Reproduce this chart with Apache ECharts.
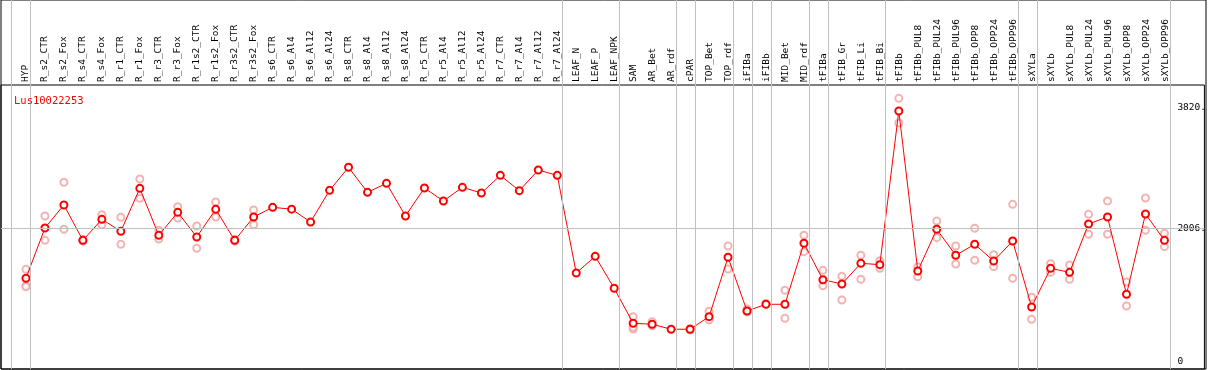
<!DOCTYPE html>
<html>
<head>
<meta charset="utf-8">
<script src="https://cdn.jsdelivr.net/npm/echarts@6/dist/echarts.min.js"></script>
<style>html,body{margin:0;padding:0;background:#fff;}#c{width:1209px;height:370px;}</style>
</head>
<body>
<div id="c"></div>
<script>
// ---------- data ----------
const title = 'Lus10022253';
const categories = ['HYP','R_s2_CTR','R_s2_Fox','R_s4_CTR','R_s4_Fox','R_r1_CTR','R_r1_Fox','R_r3_CTR','R_r3_Fox','R_r1s2_CTR','R_r1s2_Fox','R_r3s2_CTR','R_r3s2_Fox','R_s6_CTR','R_s6_Al4','R_s6_Al12','R_s6_Al24','R_s8_CTR','R_s8_Al4','R_s8_Al12','R_s8_Al24','R_r5_CTR','R_r5_Al4','R_r5_Al12','R_r5_Al24','R_r7_CTR','R_r7_Al4','R_r7_Al12','R_r7_Al24','LEAF_N','LEAF_P','LEAF_NPK','SAM','AR_Bet','AR_rdf','cPAR','TOP_Bet','TOP_rdf','iFIBa','iFIBb','MID_Bet','MID_rdf','tFIBa','tFIB_Gr','tFIB_Li','tFIB_Bi','tFIBb','tFIBb_PUL8','tFIBb_PUL24','tFIBb_PUL96','tFIBb_OPP8','tFIBb_OPP24','tFIBb_OPP96','sXYLa','sXYLb','sXYLb_PUL8','sXYLb_PUL24','sXYLb_PUL96','sXYLb_OPP8','sXYLb_OPP24','sXYLb_OPP96'];
const groupSizes = [1, 28, 3, 3, 1, 2, 1, 1, 2, 1, 3, 7, 1, 7];
const meanValues = [1252,2008,2353,1822,2138,1958,2603,1898,2243,1872,2288,1822,2173,2318,2290,2098,2573,2919,2543,2678,2188,2608,2413,2618,2533,2798,2568,2878,2798,1332,1582,1102,577,562,487,487,676,1568,761,862,862,1778,1231,1167,1477,1457,3764,1362,1988,1598,1763,1512,1812,821,1402,1342,2068,2173,1012,2218,1822];
const rep1 = [1387,2188,2694,1835,2208,2168,2743,1973,2328,2037,2398,1840,2278,null,null,null,null,null,null,null,null,null,null,null,null,null,null,null,null,null,null,null,676,601,null,500,757,1737,790,875,1072,1898,1372,1282,1598,1517,3955,1427,2113,1737,2003,1607,2363,967,1472,1452,2213,2413,1197,2458,1928];
const rep2 = [1141,1822,1988,1810,2057,1762,2453,1842,2158,1703,2173,1810,2057,null,null,null,null,null,null,null,null,null,null,null,null,null,null,null,null,null,null,null,491,540,null,475,626,1392,745,null,652,1652,1141,926,1237,1402,3584,1276,1862,1467,1523,1427,1252,637,1342,1237,1913,1913,836,1973,1727];
const rep3 = [1126,null,null,null,null,null,null,null,null,null,null,null,null,null,null,null,null,null,null,null,null,null,null,null,null,null,null,null,null,null,null,null,517,null,null,null,null,null,null,null,null,null,null,null,null,null,null,null,null,null,null,null,null,null,null,null,null,null,null,null,null];
const gridValue = 2006;
const yLabelValues = [0, 2006, 3820];

// ---------- layout ----------
const FONT = '"DejaVu Sans Mono", monospace';
const xMin = -1.3158, xMax = 62.1053;
const yMin = -110, yMax = 4155;
const sepOffset = 0.78;

const boundaries = [0];
groupSizes.forEach(s => boundaries.push(boundaries[boundaries.length - 1] + s));
const sepLines = boundaries.map(b => ({ xAxis: b - sepOffset }));

const meanData = meanValues.map((v, i) => [i, v]);
const repData = [];
[rep1, rep2, rep3].forEach(arr => arr.forEach((v, i) => { if (v != null) repData.push([i, v]); }));

const chart = echarts.init(document.getElementById('c'), null, { renderer: 'canvas' });
chart.setOption({
  animation: false,
  backgroundColor: '#fff',
  title: {
    text: title, left: 9, top: 91,
    textStyle: { color: '#ff0000', fontSize: 10.5, fontWeight: 'normal', fontFamily: FONT }
  },
  grid: [
    { left: 1, right: 3, top: 0, bottom: 1, show: true, borderColor: '#000', borderWidth: 1, backgroundColor: 'transparent' },
    { left: 1, right: 3, top: 85, bottom: 1, show: true, borderColor: '#000', borderWidth: 1, backgroundColor: 'transparent' },
    { left: 16.5, right: 33.5, top: 0, height: 85 }
  ],
  xAxis: [
    { gridIndex: 0, type: 'value', min: xMin, max: xMax, show: false },
    { gridIndex: 1, type: 'value', min: xMin, max: xMax, show: false },
    { gridIndex: 2, type: 'category', data: categories, position: 'bottom', boundaryGap: true,
      axisLine: { show: false }, axisTick: { show: false }, splitLine: { show: false },
      axisLabel: { inside: true, rotate: 90, margin: 3, interval: 0, color: '#000', fontSize: 9.5, fontFamily: FONT } }
  ],
  yAxis: [
    { gridIndex: 0, type: 'value', min: 0, max: 1, show: false },
    { gridIndex: 1, type: 'value', min: yMin, max: yMax, position: 'right',
      axisLine: { show: false }, axisTick: { show: false }, splitLine: { show: false },
      axisLabel: { inside: true, margin: 27, align: 'left', color: '#000', fontSize: 9.5, fontFamily: FONT,
        customValues: yLabelValues,
        formatter: v => v === 0 ? '0' : v + '.' } },
    { gridIndex: 2, type: 'value', show: false }
  ],
  series: [
    { type: 'line', xAxisIndex: 0, yAxisIndex: 0, data: [], silent: true, z: 1,
      markLine: { silent: true, symbol: ['none', 'none'], label: { show: false },
        lineStyle: { color: '#c0c0c0', type: 'solid', width: 1 }, data: sepLines } },
    { type: 'line', xAxisIndex: 1, yAxisIndex: 1, data: [], silent: true, z: 1,
      markLine: { silent: true, symbol: ['none', 'none'], label: { show: false },
        lineStyle: { color: '#c0c0c0', type: 'solid', width: 1 }, data: [{ yAxis: gridValue }] } },
    { type: 'scatter', xAxisIndex: 1, yAxisIndex: 1, data: repData, z: 3,
      symbol: 'emptyCircle', symbolSize: 7,
      itemStyle: { color: '#f0a0a0', borderColor: '#ec9c9c', borderWidth: 1.1 } },
    { type: 'line', xAxisIndex: 1, yAxisIndex: 1, data: meanData, z: 4,
      symbol: 'emptyCircle', symbolSize: 7, showAllSymbol: true,
      lineStyle: { color: '#ff0000', width: 1 },
      itemStyle: { color: '#ff0000', borderColor: '#ff0000', borderWidth: 1.3 } }
  ]
});
</script>
</body>
</html>
